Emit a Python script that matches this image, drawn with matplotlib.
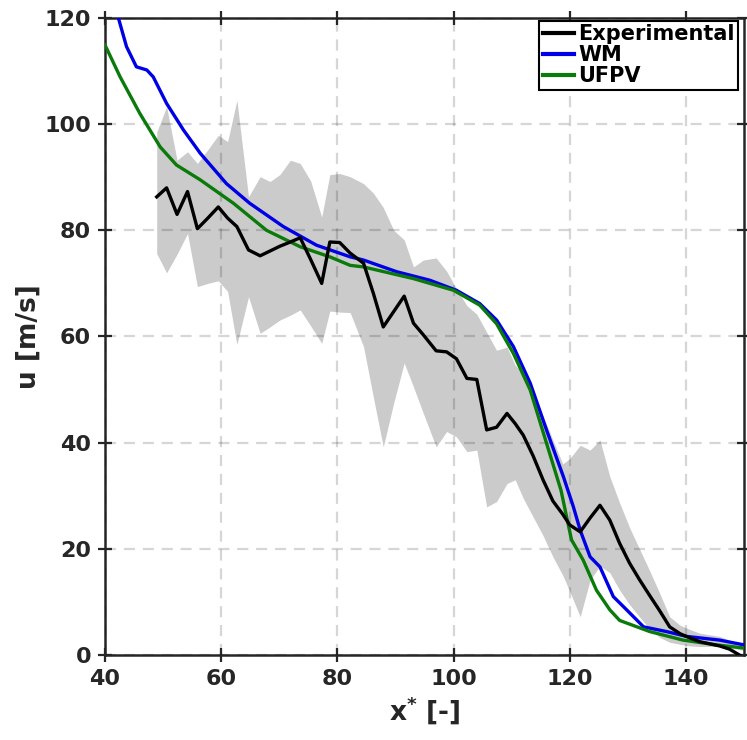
import matplotlib
matplotlib.use("Agg")
import matplotlib.pyplot as plt

# experimental mean and band (mean +/- spread)
exp_x = [48.9, 50.6, 52.4, 54.2, 55.9, 57.7, 59.5, 61.1, 62.7, 64.7,
         66.7, 68.4, 70.1, 71.9, 73.6, 75.4, 77.3, 78.7, 80.4, 82.2,
         84.5, 86.2, 87.9, 89.7, 91.5, 93.1, 94.8, 97.0, 98.8, 100.5,
         102.3, 104.0, 105.7, 107.4, 109.2, 110.6, 112.0, 113.7, 115.4, 117.1,
         118.8, 120.0, 121.8, 123.5, 125.2, 126.9, 128.6, 130.3, 132.0, 133.7,
         135.5, 137.2, 139.0, 140.7, 142.4, 144.1, 145.8, 147.5, 149.2, 150.5]
exp_u = [86.3, 88.0, 83.0, 87.3, 80.3, 82.3, 84.4, 82.3, 80.7, 76.3,
         75.2, 76.1, 77.0, 77.8, 78.6, 74.5, 70.0, 77.8, 77.7, 75.7,
         73.8, 68.1, 61.8, 64.7, 67.6, 62.5, 60.3, 57.3, 57.1, 55.8,
         52.1, 51.9, 42.4, 42.9, 45.5, 43.6, 41.4, 37.5, 33.0, 29.0,
         26.5, 24.5, 23.2, 25.8, 28.2, 25.4, 21.0, 17.3, 14.2, 11.3,
         8.3, 5.3, 4.0, 3.2, 2.5, 2.1, 1.7, 1.1, 0.0, -1.0]
exp_hi = [98.5, 103.3, 93.2, 94.8, 92.6, 95.2, 97.9, 96.7, 104.5, 86.3,
          90.1, 89.2, 90.5, 93.2, 92.6, 89.3, 82.5, 90.5, 90.7, 90.1,
          88.8, 87.0, 84.3, 80.0, 78.2, 73.1, 74.4, 74.8, 72.3, 69.0,
          65.8, 64.2, 60.8, 57.4, 58.0, 54.6, 53.0, 49.0, 45.0, 40.5,
          36.0, 37.0, 39.5, 38.6, 40.5, 33.6, 28.6, 24.0, 20.0, 16.0,
          11.6, 7.2, 5.6, 4.8, 4.1, 3.8, 3.5, 2.8, 2.0, 1.8]
exp_lo = [75.6, 72.0, 75.5, 79.4, 69.4, 70.0, 70.5, 68.5, 58.5, 67.5,
          60.6, 61.8, 63.1, 64.0, 65.0, 62.0, 58.7, 64.8, 64.6, 64.5,
          58.1, 48.5, 39.2, 47.5, 55.0, 50.5, 45.5, 39.2, 42.1, 41.1,
          38.3, 38.6, 27.9, 28.9, 32.3, 33.0, 29.5, 26.0, 22.5, 18.5,
          15.0, 12.0, 7.2, 14.1, 16.8, 15.5, 12.2, 9.5, 7.2, 5.0,
          3.3, 2.4, 2.0, 1.7, 1.6, 1.6, 1.6, 1.4, 1.0, 0.8]

wm_x = [41.0, 42.3, 43.7, 45.4, 47.2, 48.3, 50.6, 53.5, 56.4, 60.9,
        64.9, 70.7, 76.4, 82.2, 84.5, 90.2, 95.9, 100.5, 104.5, 107.4,
        110.3, 113.2, 116.0, 118.9, 120.6, 121.8, 123.5, 125.2, 127.5, 129.8,
        132.7, 136.7, 140.1, 145.8, 150.0]
wm_u = [125.0, 120.0, 114.6, 110.8, 110.2, 108.9, 103.9, 98.9, 94.5, 88.8,
        85.1, 80.7, 77.2, 75.0, 74.4, 72.2, 70.6, 68.7, 66.2, 63.1,
        58.1, 51.2, 42.4, 33.6, 28.0, 23.5, 18.5, 16.6, 11.0, 8.5,
        5.3, 4.4, 3.5, 2.8, 1.9]

ufpv_x = [40.0, 42.6, 46.0, 49.5, 52.3, 56.4, 62.1, 67.8, 73.6, 78.7,
          82.2, 84.5, 93.1, 100.0, 104.5, 107.4, 110.3, 113.2, 116.0, 118.5,
          120.3, 122.3, 124.6, 126.9, 128.6, 133.8, 139.5, 145.3, 150.0]
ufpv_u = [114.9, 108.9, 102.0, 95.7, 92.3, 89.5, 85.1, 80.0, 76.9, 75.0,
          73.4, 73.1, 70.9, 68.7, 65.9, 62.4, 56.8, 49.9, 39.9, 31.0,
          21.7, 17.9, 12.2, 8.5, 6.5, 4.4, 2.8, 1.9, 1.3]

x_ticks = [40, 60, 80, 100, 120, 140]
y_ticks = [0, 20, 40, 60, 80, 100, 120]

plt.rcParams["font.family"] = ["DejaVu Sans"]
plt.rcParams["font.weight"] = "bold"
plt.rcParams["axes.labelweight"] = "bold"
text_col = "#262626"

fig = plt.figure(figsize=(7.47, 7.40), dpi=100)
ax = fig.add_axes([0.1406, 0.1149, 0.9960 - 0.1406, 0.9757 - 0.1149])

ax.fill_between(exp_x, exp_lo, exp_hi, color="#cbcbcb", linewidth=0, zorder=1)
ax.plot(exp_x, exp_u, color="black", lw=2.4, label="Experimental", zorder=4)
ax.plot(wm_x, wm_u, color="#0000e6", lw=2.4, label="WM", zorder=3)
ax.plot(ufpv_x, ufpv_u, color="#0a7a0a", lw=2.4, label="UFPV", zorder=3.5)

ax.set_xlim(40, 150)
ax.set_ylim(0, 120)
ax.set_xticks(x_ticks)
ax.set_yticks(y_ticks)
ax.set_axisbelow(False)
ax.grid(True, color="black", alpha=0.16, linestyle=(0, (5, 3.5)), linewidth=1.6)

for side in ax.spines.values():
    side.set_linewidth(1.8)
    side.set_color(text_col)
ax.tick_params(direction="inout", length=10, width=1.6, colors=text_col,
               labelsize=16, pad=5, top=True, right=True)

ax.set_xlabel(r"$\mathbf{x^{*}}$ [-]", fontsize=19, color=text_col, labelpad=4)
ax.set_ylabel("u [m/s]", fontsize=19, color=text_col, labelpad=2)

leg = ax.legend(loc="upper right", bbox_to_anchor=(0.99, 0.995), fontsize=15,
                handlelength=1.5, handletextpad=0.2, borderpad=0.15,
                labelspacing=0.05, borderaxespad=0.0, fancybox=False,
                framealpha=1.0, edgecolor="black")
leg.get_frame().set_linewidth(1.5)
for line in leg.get_lines():
    line.set_linewidth(3)

fig.savefig("out.png", dpi=100)
